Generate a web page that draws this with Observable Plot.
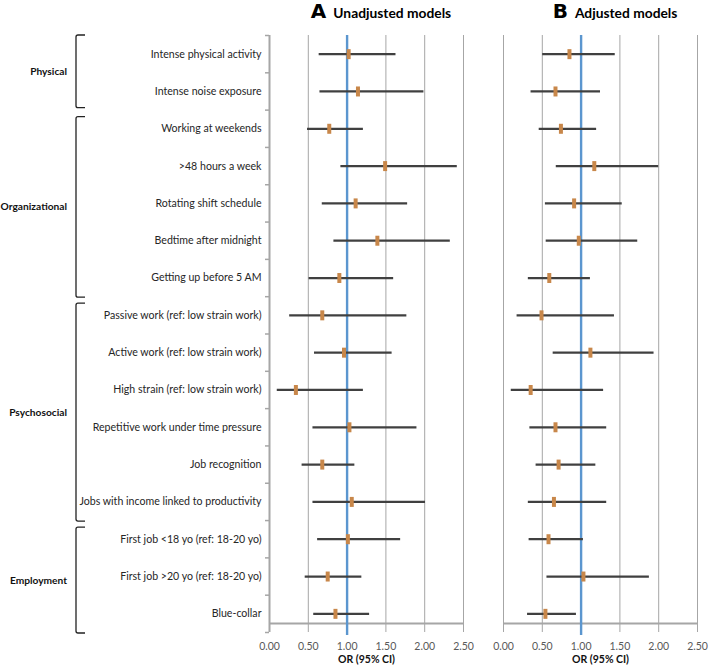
<!DOCTYPE html>
<html>
<head>
<meta charset="utf-8">
<script src="https://cdn.jsdelivr.net/npm/d3@7"></script>
<script src="https://cdn.jsdelivr.net/npm/@observablehq/plot@0.6"></script>
<style>
  html, body { margin: 0; padding: 0; background: #fff; }
  #chart svg { display: block; }
</style>
</head>
<body>
<div id="chart"></div>
<script>
const labels = [
  "Intense physical activity",
  "Intense noise exposure",
  "Working at weekends",
  ">48 hours a week",
  "Rotating shift schedule",
  "Bedtime after midnight",
  "Getting up before 5 AM",
  "Passive work (ref: low strain work)",
  "Active work (ref: low strain work)",
  "High strain (ref: low strain work)",
  "Repetitive work under time pressure",
  "Job recognition",
  "Jobs with income linked to productivity",
  "First job <18 yo (ref: 18-20 yo)",
  "First job >20 yo (ref: 18-20 yo)",
  "Blue-collar"
];
const groupNames = ["Physical", "Organizational", "Psychosocial", "Employment"];
const groupSizes = [2, 5, 6, 3];
const panels = ["Unadjusted models", "Adjusted models"];
const panelLetters = ["A", "B"];
const xTicks = [0, 0.5, 1, 1.5, 2, 2.5];
const axisTitle = "OR (95% CI)";

const unadjOR = [1.02, 1.14, 0.77, 1.49, 1.11, 1.39, 0.90, 0.68, 0.96, 0.34, 1.03, 0.68, 1.06, 1.01, 0.75, 0.85];
const unadjLo = [0.64, 0.65, 0.49, 0.92, 0.68, 0.83, 0.51, 0.26, 0.58, 0.10, 0.56, 0.42, 0.56, 0.62, 0.46, 0.57];
const unadjHi = [1.63, 1.99, 1.21, 2.42, 1.78, 2.33, 1.60, 1.77, 1.58, 1.21, 1.90, 1.10, 2.01, 1.69, 1.19, 1.29];

const adjOR = [0.85, 0.67, 0.74, 1.17, 0.91, 0.97, 0.59, 0.49, 1.12, 0.35, 0.67, 0.71, 0.65, 0.58, 1.03, 0.54];
const adjLo = [0.505, 0.355, 0.46, 0.68, 0.54, 0.55, 0.32, 0.175, 0.64, 0.10, 0.34, 0.42, 0.32, 0.33, 0.56, 0.31];
const adjHi = [1.44, 1.25, 1.20, 2.00, 1.53, 1.73, 1.12, 1.43, 1.94, 1.29, 1.33, 1.19, 1.33, 1.03, 1.88, 0.94];

// Build table
const rows = [];
labels.forEach((lab, i) => {
  rows.push({model: panels[0], row: i + 1, label: lab, or: unadjOR[i], lo: unadjLo[i], hi: unadjHi[i]});
  rows.push({model: panels[1], row: i + 1, label: lab, or: adjOR[i], lo: adjLo[i], hi: adjHi[i]});
});
const rowIdx = labels.map((d, i) => i + 1);
const bounds = d3.range(0, labels.length + 1).map(i => i + 0.5);
const lastBound = labels.length + 0.5;

const barSymbol = { draw(context) { context.rect(-2, -5, 4, 10); } };
const gridColor = "#a6a6a6";

const chart = Plot.plot({
  width: 709,
  height: 668,
  marginTop: 35,
  marginBottom: 36,
  marginLeft: 269,
  marginRight: 11,
  style: {fontFamily: "Lato, sans-serif", background: "white", overflow: "visible"},
  fx: {domain: panels, paddingInner: 40 / 234.5, paddingOuter: 0, axis: null, label: null},
  x: {domain: [0, 2.5], axis: null},
  y: {domain: [0.5, lastBound], reverse: true, axis: null},
  marks: [
    Plot.gridX(xTicks, {stroke: gridColor, strokeOpacity: 1, strokeWidth: 1}),
    Plot.ruleX([panels[0]], {x: () => 0, fx: d => d, stroke: gridColor, strokeWidth: 2}),
    Plot.ruleY([lastBound], {dy: -9, stroke: gridColor, strokeWidth: 2}),
    Plot.axisY({ticks: bounds, tickFormat: () => "", tickSize: 4, stroke: gridColor, strokeWidth: 1.5, label: null}),
    Plot.axisY({ticks: rowIdx, tickFormat: i => labels[i - 1], tickSize: 0, tickPadding: 8,
      fontSize: "10.6px", fill: "#262626", label: null}),
    Plot.axisX({ticks: xTicks, tickFormat: d3.format(".2f"), tickSize: 0, tickPadding: 10,
      fontSize: "10.5px", fill: "#595959", label: null}),
    Plot.text(panels, {fx: d => d, text: () => axisTitle, frameAnchor: "bottom", dy: 30.5,
      fontWeight: "bold", fontSize: "10.5px", fill: "#111"}),
    Plot.ruleX([1], {stroke: "#5b96cf", strokeWidth: 2.4, insetBottom: -3}),
    Plot.ruleY(rows, {y: "row", x1: "lo", x2: "hi", fx: "model", stroke: "#404040", strokeWidth: 2.2}),
    Plot.dot(rows, {x: "or", y: "row", fx: "model", symbol: barSymbol, fill: "#c8874a", stroke: "none"})
  ]
});

document.getElementById("chart").appendChild(chart);

// Annotations positioned with Plot's own scales
const yS = chart.scale("y");
const fxS = chart.scale("fx");
const svg = d3.select(chart);

let start = 1;
groupNames.forEach((g, i) => {
  const a = start, b = start + groupSizes[i] - 1;
  start = b + 1;
  const top = yS.apply(a - 0.5) + (i === 0 ? 0 : 7);
  const bot = yS.apply(b + 0.5) + (i === 0 ? -2 : 1);
  const xl = 76, xr = 85;
  svg.append("path")
    .attr("d", `M${xr},${top} L${xl + 2},${top} Q${xl},${top} ${xl},${top + 2} L${xl},${bot - 2} Q${xl},${bot} ${xl + 2},${bot} L${xr},${bot}`)
    .attr("fill", "none").attr("stroke", "#222").attr("stroke-width", 1.3);
  svg.append("text")
    .attr("x", 67).attr("y", (top + bot) / 2).attr("dy", "0.35em")
    .attr("text-anchor", "end")
    .attr("font-family", "Lato, sans-serif")
    .attr("font-weight", "bold").attr("font-size", 10.2).attr("fill", "#111")
    .text(g);
});

panels.forEach((p, i) => {
  const cx = fxS.apply(p) + fxS.bandwidth / 2 + 15;
  const t = svg.append("text").attr("x", cx).attr("y", 18).attr("text-anchor", "middle").attr("fill", "#000");
  t.append("tspan").attr("font-family", "'DejaVu Sans', sans-serif").attr("font-weight", "bold")
    .attr("font-size", 20).text(panelLetters[i]);
  t.append("tspan").attr("dx", 7).attr("font-family", "Lato, sans-serif").attr("font-weight", "bold")
    .attr("font-size", 13.8).text(p);
});
</script>
</body>
</html>
